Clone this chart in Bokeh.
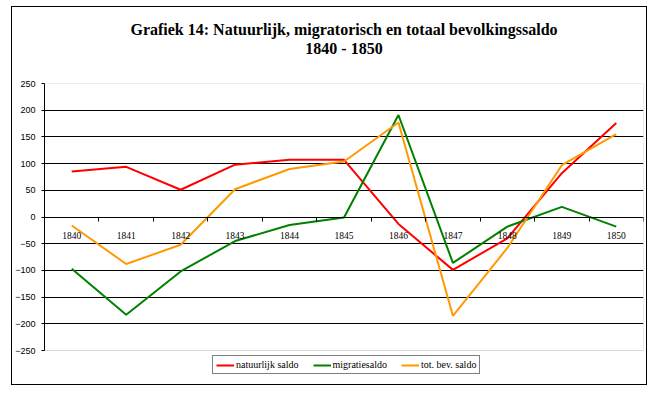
from bokeh.plotting import figure
from bokeh.models import (Range1d, FixedTicker, Legend, LegendItem, Title, LinearAxis,
                          BoxAnnotation)
from bokeh.embed import file_html
from bokeh.resources import INLINE

years = [1840, 1841, 1842, 1843, 1844, 1845, 1846, 1847, 1848, 1849, 1850]
natuurlijk = [85, 94, 51, 98, 107, 107, -13, -99, -40, 82, 176]
migratie = [-97, -183, -102, -45, -15, -1, 191, -86, -18, 19, -18]
totaal = [-16, -88, -52, 52, 90, 104, 177, -185, -58, 97, 155]
series_names = ["natuurlijk saldo", "migratiesaldo", "tot. bev. saldo"]
series_colors = ["#FF0000", "#008000", "#FF9900"]
y_ticks = [-250, -200, -150, -100, -50, 0, 50, 100, 150, 200, 250]
title_line1 = "Grafiek 14: Natuurlijk, migratorisch en totaal bevolkingssaldo"
title_line2 = "1840 - 1850"

y_min, y_max = y_ticks[0], y_ticks[-1]
# extra room under the plot area for the legend (about 36 px at 267 px per 500 units)
legend_room = 36 * (y_max - y_min) / 267.0

p = figure(width=636, height=379, output_backend="svg", toolbar_location=None,
           x_range=Range1d(years[0] - 0.5, years[-1] + 0.5),
           y_range=Range1d(y_min - legend_room, y_max),
           x_axis_location=None, y_axis_location=None,
           min_border_left=32, min_border_right=5, min_border_bottom=0,
           min_border_top=76, margin=(6, 0, 0, 11),
           styles={"border": "1px solid black"})
p.outline_line_color = None
p.background_fill_color = "white"
p.border_fill_color = "white"

# grey plot-area border
p.add_layout(BoxAnnotation(left=years[0] - 0.5, right=years[-1] + 0.5,
                           bottom=y_min, top=y_max, fill_color=None,
                           line_color="#808080", line_width=1, level="underlay"))

p.xgrid.visible = False
p.ygrid.ticker = FixedTicker(ticks=[t for t in y_ticks if y_min < t < y_max])
p.ygrid.grid_line_color = "black"
p.ygrid.grid_line_width = 1

r1 = p.line(years, natuurlijk, line_color=series_colors[0], line_width=2)
r2 = p.line(years, migratie, line_color=series_colors[1], line_width=2)
r3 = p.line(years, totaal, line_color=series_colors[2], line_width=2)

legend = Legend(items=[LegendItem(label=series_names[0], renderers=[r1]),
                       LegendItem(label=series_names[1], renderers=[r2]),
                       LegendItem(label=series_names[2], renderers=[r3])],
                orientation="horizontal", location=(168, 12), nrows=1,
                label_text_font="Liberation Serif", label_text_font_size="10px",
                label_text_color="black", glyph_width=18, glyph_height=10,
                label_height=10, label_standoff=2, spacing=14, padding=3, margin=0,
                border_line_color="black", border_line_width=1,
                background_fill_color="white", background_fill_alpha=1)
p.add_layout(legend, "center")

# Titles (a blank spacer title keeps the gap above the plot area)
title_style = dict(align="center", text_font="Liberation Serif", text_font_size="16px",
                   text_font_style="bold", text_color="black", standoff=0,
                   text_line_height=0.8)
p.add_layout(Title(text=" ", align="center", text_font_size="10px", standoff=14), "above")
p.add_layout(Title(text=title_line2, **title_style), "above")
p.add_layout(Title(text=title_line1, **title_style), "above")

# Y axis
yax = LinearAxis(ticker=FixedTicker(ticks=y_ticks), bounds=(y_min, y_max))
yax.axis_line_color = "black"
yax.major_tick_line_color = "black"
yax.major_tick_out = 3
yax.major_tick_in = 0
yax.minor_tick_line_color = None
yax.major_label_standoff = 6
yax.major_label_text_font = "Liberation Sans"
yax.major_label_text_font_size = "9px"
yax.major_label_text_color = "black"
p.add_layout(yax, "left")

# X axis at y = 0
xax = LinearAxis(ticker=FixedTicker(ticks=years,
                                    minor_ticks=[y - 0.5 for y in years] + [years[-1] + 0.5]),
                 fixed_location=0)
xax.axis_line_color = "black"
xax.major_tick_line_color = None
xax.major_tick_out = 0
xax.major_tick_in = 0
xax.minor_tick_line_color = "black"
xax.minor_tick_out = 4
xax.minor_tick_in = 0
xax.major_label_standoff = 11
xax.major_label_text_font = "Liberation Serif"
xax.major_label_text_font_size = "9.5px"
xax.major_label_text_color = "black"
p.add_layout(xax, "below")

open("out.html", "w").write(file_html(p, INLINE))
